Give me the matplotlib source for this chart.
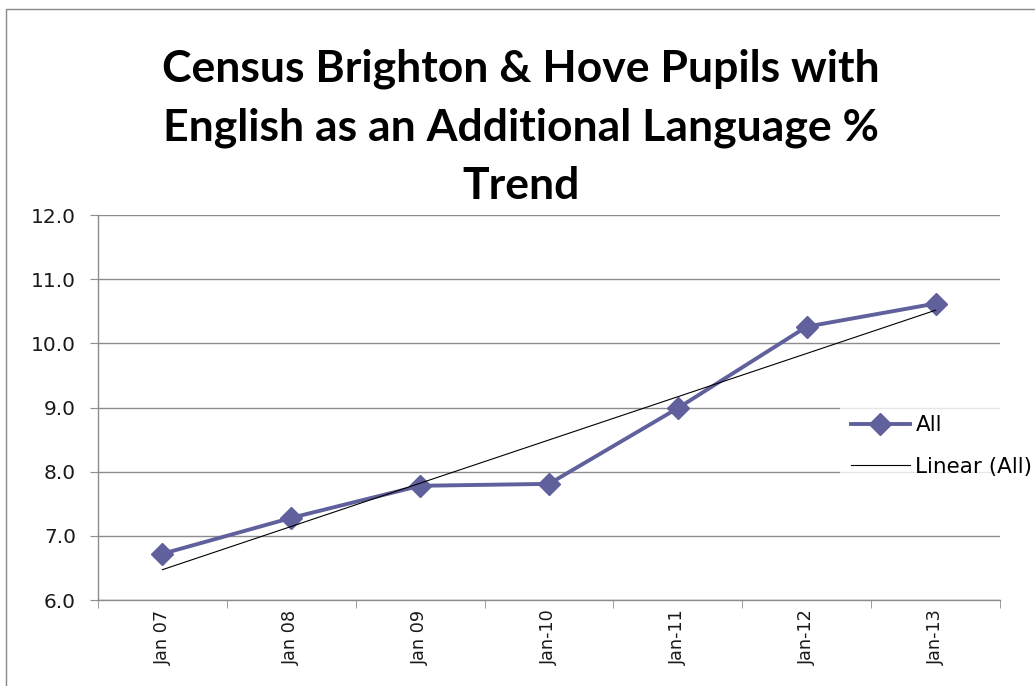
import numpy as np
import matplotlib.pyplot as plt
from matplotlib.patches import Rectangle

# ------------------------------------------------------------
# DATA
# ------------------------------------------------------------
periods = ["Jan 07", "Jan 08", "Jan 09", "Jan-10", "Jan-11", "Jan-12", "Jan-13"]
eal_pct = [6.72, 7.28, 7.78, 7.81, 8.99, 10.26, 10.62]

title = "Census Brighton & Hove Pupils with\nEnglish as an Additional Language %\nTrend"

# ------------------------------------------------------------
# FIGURE
# ------------------------------------------------------------
W, H = 1035, 686
fig = plt.figure(figsize=(W / 100, H / 100), dpi=100)
ax = fig.add_axes([98 / W, 1 - 600 / H, (1000 - 98) / W, (600 - 215) / H])

x = np.arange(len(periods))
line_col = "#60609c"
grid_col = "#8c8c8c"

ax.plot(x, eal_pct, color=line_col, lw=2.8, marker="D", ms=11,
        mfc=line_col, mec=line_col, label="All", zorder=3)

# linear trend line
slope, icpt = np.polyfit(x, eal_pct, 1)
ax.plot(x, slope * x + icpt, color="black", lw=0.8, label="Linear (All)", zorder=4)

ax.set_xlim(-0.5, len(periods) - 0.5)
ax.set_ylim(6, 12)
ax.set_yticks(np.arange(6, 12.1, 1))
ax.set_yticklabels([f"{v:.1f}" for v in np.arange(6, 12.1, 1)])
ax.set_xticks(x)
ax.set_xticklabels(periods, rotation=90)
ax.set_xticks(np.arange(-0.5, len(periods)), minor=True)

ax.yaxis.grid(True, color=grid_col, lw=1)
ax.set_axisbelow(True)
for s in ["top", "right"]:
    ax.spines[s].set_visible(False)
for s in ["left", "bottom"]:
    ax.spines[s].set_color(grid_col)
    ax.spines[s].set_linewidth(1)

ax.tick_params(axis="y", labelsize=14.5, length=5.8, color=grid_col, pad=10, labelcolor="#1a1a1a")
ax.tick_params(axis="x", which="major", labelsize=12.7, length=0, pad=7, labelcolor="#1a1a1a")
ax.tick_params(axis="x", which="minor", length=6, color=grid_col)

fig.text(521 / W, 1 - 127 / H, title, ha="center", va="center",
         fontsize=32, fontweight="bold", family="Lato", linespacing=1.55)

leg = fig.legend(loc="center left", bbox_to_anchor=(840 / W, 1 - 446 / H),
                 frameon=True, fontsize=15.5, handlelength=2.75, handletextpad=0.25,
                 labelspacing=1.0, borderaxespad=0, borderpad=0.5)
leg.get_frame().set_facecolor("white")
leg.get_frame().set_edgecolor("none")
leg.get_frame().set_boxstyle("square", pad=0)

# chart border (cut off at right and bottom)
fig.patches.append(Rectangle((6 / W, -0.1), 1.2, 1 - 9 / H + 0.1,
                             transform=fig.transFigure, fill=False,
                             edgecolor="#888888", lw=1))

fig.savefig("out.png", dpi=100)
